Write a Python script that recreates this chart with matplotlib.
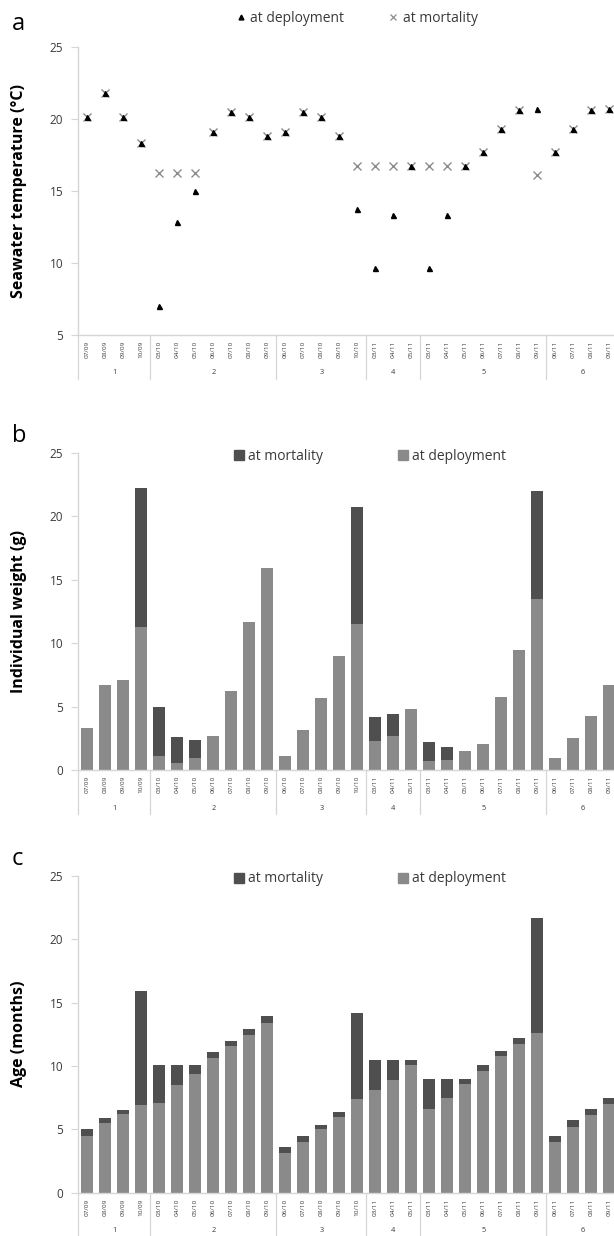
import matplotlib
matplotlib.use("Agg")
import matplotlib.pyplot as plt
import matplotlib.transforms as mtransforms
from matplotlib.lines import Line2D
from matplotlib.patches import Patch
import numpy as np

plt.rcParams['font.family'] = ['Open Sans', 'DejaVu Sans']

# ---------------- data ----------------
group_labels = ['1', '2', '3', '4', '5', '6']
group_months = [
    ['07/09', '08/09', '09/09', '10/09'],
    ['03/10', '04/10', '05/10', '06/10', '07/10', '08/10', '09/10'],
    ['06/10', '07/10', '08/10', '09/10', '10/10'],
    ['03/11', '04/11', '05/11'],
    ['03/11', '04/11', '05/11', '06/11', '07/11', '08/11', '09/11'],
    ['06/11', '07/11', '08/11', '09/11'],
]

temp_deployment = [20.1, 21.8, 20.1, 18.3,
                   7.0, 12.8, 15.0, 19.1, 20.5, 20.1, 18.8,
                   19.1, 20.5, 20.1, 18.8, 13.7,
                   9.6, 13.3, 16.7,
                   9.6, 13.3, 16.7, 17.7, 19.3, 20.6, 20.7,
                   17.7, 19.3, 20.6, 20.7]
temp_mortality = [20.1, 21.8, 20.1, 18.3,
                  16.2, 16.2, 16.2, 19.1, 20.5, 20.1, 18.8,
                  19.1, 20.5, 20.1, 18.8, 16.7,
                  16.7, 16.7, 16.7,
                  16.7, 16.7, 16.7, 17.7, 19.3, 20.6, 16.1,
                  17.7, 19.3, 20.6, 20.7]

weight_deployment = [3.3, 6.7, 7.1, 11.3,
                     1.1, 0.6, 1.0, 2.7, 6.2, 11.7, 15.9,
                     1.1, 3.2, 5.7, 9.0, 11.5,
                     2.3, 2.7, 4.8,
                     0.7, 0.8, 1.5, 2.1, 5.8, 9.45, 13.45,
                     1.0, 2.5, 4.3, 6.7]
weight_mortality = [3.3, 6.7, 7.1, 22.2,
                    5.0, 2.6, 2.4, 2.7, 6.2, 11.7, 15.9,
                    1.1, 3.2, 5.7, 9.0, 20.7,
                    4.2, 4.4, 4.8,
                    2.2, 1.8, 1.5, 2.1, 5.8, 9.45, 22.0,
                    1.0, 2.5, 4.3, 6.7]

age_deployment = [4.5, 5.5, 6.2, 6.9,
                  7.1, 8.5, 9.4, 10.6, 11.6, 12.4, 13.4,
                  3.1, 4.0, 5.0, 6.0, 7.4,
                  8.1, 8.9, 10.1,
                  6.6, 7.5, 8.6, 9.6, 10.8, 11.7, 12.6,
                  4.0, 5.2, 6.1, 7.0]
age_mortality = [5.0, 5.9, 6.5, 15.9,
                 10.1, 10.1, 10.1, 11.1, 12.0, 12.9, 13.9,
                 3.6, 4.5, 5.3, 6.4, 14.2,
                 10.5, 10.5, 10.5,
                 9.0, 9.0, 9.0, 10.1, 11.2, 12.2, 21.7,
                 4.5, 5.7, 6.6, 7.5]

# ---------------- style ----------------
W, H = 614, 1236
DPI = 100
dark = '#4f4f4f'
light = '#8a8a8a'
xcol = '#8c8c8c'
axcol = '#d6d6d6'
txt = '#3a3a3a'

fig = plt.figure(figsize=(W / DPI, H / DPI), dpi=DPI)
fig.patch.set_facecolor('white')

tick_labels = [m for g in group_months for m in g]
n = len(tick_labels)
x = np.arange(n)
sizes = [len(g) for g in group_months]
bounds = np.concatenate([[0], np.cumsum(sizes)]) - 0.5
centers = [(bounds[i] + bounds[i + 1]) / 2 for i in range(len(sizes))]

left_px, right_px = 78.3, 618.3


def make_ax(top_px, bot_px):
    return fig.add_axes([left_px / W, 1 - bot_px / H,
                         (right_px - left_px) / W, (bot_px - top_px) / H])


def style(ax, ylim, yticks, height_px, ylabel):
    ax.set_xlim(-0.5, n - 0.5)
    ax.set_ylim(*ylim)
    ax.set_yticks(yticks)
    for s in ['top', 'right']:
        ax.spines[s].set_visible(False)
    for s in ['left', 'bottom']:
        ax.spines[s].set_color(axcol)
        ax.spines[s].set_linewidth(1.0)
    ax.tick_params(axis='y', length=5, width=0.8, color=axcol, pad=6,
                   labelsize=8.5, labelcolor=txt)
    ax.set_xticks(x)
    ax.set_xticklabels(tick_labels, rotation=90, fontsize=4.6, color=txt)
    ax.tick_params(axis='x', length=0, pad=4)
    ax.set_ylabel(ylabel, fontsize=11.5, fontweight='bold', color='black')
    ax.yaxis.set_label_coords(-51 / (right_px - left_px), 0.5)
    trans = mtransforms.blended_transform_factory(ax.transData, ax.transAxes)
    depth = 44 / height_px
    for b in bounds:
        ax.plot([b, b], [0, -depth], transform=trans, color=axcol,
                lw=0.9, clip_on=False)
    for c, lab in zip(centers, group_labels):
        ax.text(c, -38 / height_px, lab, transform=trans, ha='center',
                va='center', fontsize=5.3, color=txt)


# ---------------- panel a ----------------
a_top, a_bot = 46.7, 334.7
ax1 = make_ax(a_top, a_bot)
ax1.plot(x, temp_mortality, linestyle='none', marker='x', color=xcol,
         markersize=6, mew=1.0, zorder=2)
ax1.plot(x, temp_deployment, linestyle='none', marker='^', color='black',
         markersize=3.6, zorder=3)
style(ax1, (5, 25), [5, 10, 15, 20, 25], a_bot - a_top,
      'Seawater temperature (°C)')

h_a = [Line2D([], [], linestyle='none', marker='^', color='black', markersize=3.5),
       Line2D([], [], linestyle='none', marker='x', color=xcol, markersize=4.5, mew=0.9)]
fig.legend(h_a, ['at deployment', 'at mortality'], loc='center',
           bbox_to_anchor=(357 / W, 1 - 18 / H), ncol=2, frameon=False,
           fontsize=10, handlelength=0.6, handletextpad=0.4,
           columnspacing=3.2, labelcolor=txt)

# ---------------- panel b ----------------
b_top, b_bot = 452.7, 770.2
ax2 = make_ax(b_top, b_bot)
wd = np.array(weight_deployment)
wm = np.array(weight_mortality)
ax2.bar(x, wd, width=0.65, color=light, edgecolor='none', zorder=2)
ax2.bar(x, wm - wd, bottom=wd, width=0.65, color=dark, edgecolor='none', zorder=2)
style(ax2, (0, 25), [0, 5, 10, 15, 20, 25], b_bot - b_top,
      'Individual weight (g)')

h_b = [Patch(color=dark), Patch(color=light)]
fig.legend(h_b, ['at mortality', 'at deployment'], loc='center',
           bbox_to_anchor=(370 / W, 1 - 456 / H), ncol=2, frameon=False,
           fontsize=10, handlelength=0.7, handleheight=0.7, handletextpad=0.3,
           columnspacing=5.4, labelcolor=txt)

# ---------------- panel c ----------------
c_top, c_bot = 875.7, 1192.7
ax3 = make_ax(c_top, c_bot)
ad = np.array(age_deployment)
am = np.array(age_mortality)
ax3.bar(x, ad, width=0.65, color=light, edgecolor='none', zorder=2)
ax3.bar(x, am - ad, bottom=ad, width=0.65, color=dark, edgecolor='none', zorder=2)
style(ax3, (0, 25), [0, 5, 10, 15, 20, 25], c_bot - c_top, 'Age (months)')

fig.legend(h_b, ['at mortality', 'at deployment'], loc='center',
           bbox_to_anchor=(370 / W, 1 - 879 / H), ncol=2, frameon=False,
           fontsize=10, handlelength=0.7, handleheight=0.7, handletextpad=0.3,
           columnspacing=5.4, labelcolor=txt)

# ---------------- panel letters ----------------
for lab, ybase in [('a', 30), ('b', 442), ('c', 865)]:
    fig.text(12 / W, 1 - ybase / H, lab, fontsize=17, va='baseline',
             ha='left', color='black')

fig.savefig('out.png', dpi=DPI)
